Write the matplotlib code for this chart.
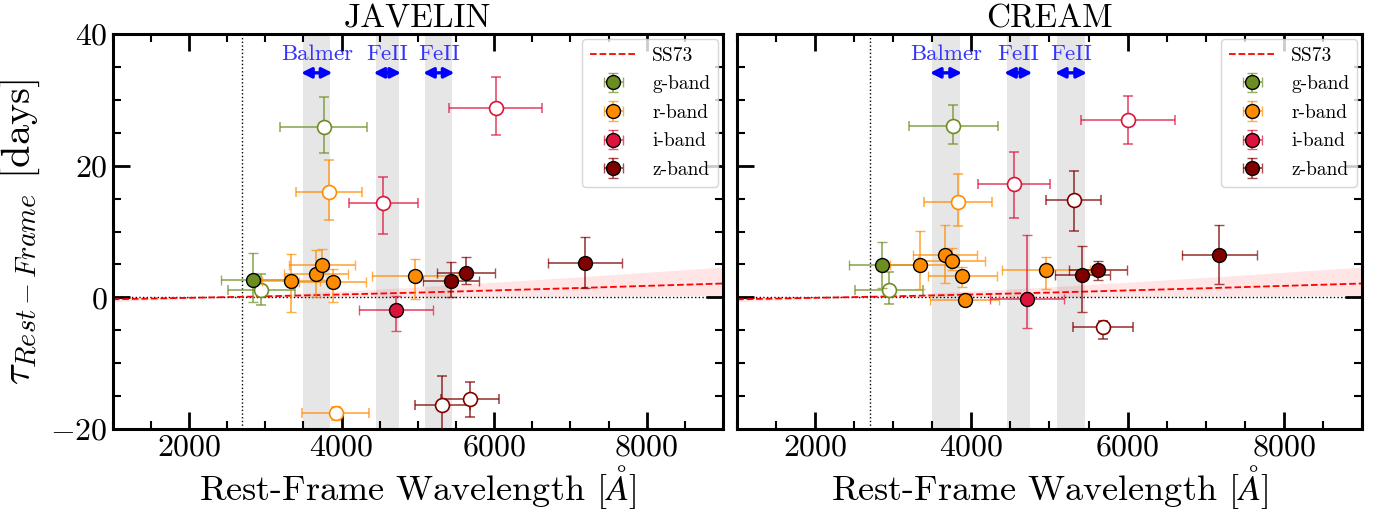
import numpy as np
import matplotlib
matplotlib.use("Agg")
import matplotlib.pyplot as plt
from matplotlib.colors import to_rgba
from matplotlib.ticker import MultipleLocator

plt.rcParams['font.family'] = 'serif'
plt.rcParams['font.serif'] = ['cmr10']
plt.rcParams['mathtext.fontset'] = 'cm'
plt.rcParams['axes.formatter.use_mathtext'] = True

# ---------------- data ----------------
bands = ['g-band', 'r-band', 'i-band', 'z-band']
band_colors = ['#6B8E23', '#FF8C00', '#DC143C', '#800000']

# JAVELIN: filled points
jav_fill_x = [[2839], [3337, 3669, 3747, 3883, 4962], [4713], [5430, 5630, 7190]]
jav_fill_y = [[2.69], [2.43, 3.6, 4.97, 2.33, 3.19], [-1.98], [2.43, 3.75, 5.2]]
jav_fill_xerr = [[423], [380, 420, 430, 437, 568], [481], [367, 384, 489]]
jav_fill_ylo = [[3.4], [4.7, 3.55, 2.3, 3.0, 3.4], [3.2], [2.4, 1.8, 3.8]]
jav_fill_yhi = [[4.0], [4.2, 3.65, 2.3, 1.9, 2.6], [2.2], [3.0, 2.4, 3.95]]
# JAVELIN: open points
jav_open_x = [[2948, 3765], [3835, 3923], [4547, 6020], [5320, 5687]]
jav_open_y = [[1.06, 25.8], [16.06, -17.5], [14.3, 28.7], [-16.3, -15.4]]
jav_open_xerr = [[440, 569], [437, 441], [450, 608], [358, 380]]
jav_open_ylo = [[2.3, 3.9], [4.37, 1.1], [4.66, 4.05], [4.5, 2.8]]
jav_open_yhi = [[2.5, 4.67], [4.76, 0.8], [3.95, 4.8], [4.4, 2.5]]

# CREAM: filled points
cre_fill_x = [[2850], [3344, 3664, 3749, 3886, 3916, 4960], [4708], [5421, 5620, 7176]]
cre_fill_y = [[4.9], [4.9, 6.5, 5.5, 3.19, -0.46, 4.1], [-0.2], [3.34, 4.2, 6.5]]
cre_fill_xerr = [[418], [384, 409, 426, 439, 443, 563], [473], [354, 371, 482]]
cre_fill_ylo = [[3.5], [3.6, 4.3, 1.3, 1.6, 0.9, 2.9], [4.4], [5.6, 1.5, 4.4]]
cre_fill_yhi = [[3.55], [5.2, 4.45, 2.0, 1.4, 1.1, 2.1], [9.7], [4.4, 1.3, 4.55]]
# CREAM: open points
cre_open_x = [[2948, 3771], [3830], [4546, 6009], [5309, 5684]]
cre_open_y = [[1.17, 26.1], [14.5], [17.2, 26.95], [14.74, -4.46]]
cre_open_xerr = [[435, 567], [435], [456, 601], [349, 384]]
cre_open_ylo = [[2.2, 2.74], [3.65], [5.1, 3.7], [4.66, 1.9]]
cre_open_yhi = [[2.7, 3.14], [4.2], [4.9, 3.7], [4.45, 0.9]]

# SS73 model curve and its band
ss73_wave = [1000, 3000, 5000, 7000, 9000]
ss73_tau = [-0.30, 0.15, 0.72, 1.38, 2.10]
ss73_lo = [-0.04, 0.02, 0.10, 0.20, 0.30]
ss73_hi = [-0.66, 0.33, 1.58, 3.02, 4.60]

# emission-line regions
region_labels = ['Balmer', 'FeII', 'FeII']
region_lo = [3500, 4450, 5100]
region_hi = [3850, 4750, 5450]
mgii_line = 2700

titles = ['JAVELIN', 'CREAM']

# ---------------- figure ----------------
fig = plt.figure(figsize=(13.84, 5.12), dpi=100)
ax1 = fig.add_axes([0.0814, 0.1621, 0.4410, 0.7715])
ax2 = fig.add_axes([0.5325, 0.1621, 0.4516, 0.7715])

panels = [
    (ax1, jav_fill_x, jav_fill_y, jav_fill_xerr, jav_fill_ylo, jav_fill_yhi,
     jav_open_x, jav_open_y, jav_open_xerr, jav_open_ylo, jav_open_yhi),
    (ax2, cre_fill_x, cre_fill_y, cre_fill_xerr, cre_fill_ylo, cre_fill_yhi,
     cre_open_x, cre_open_y, cre_open_xerr, cre_open_ylo, cre_open_yhi),
]

for k, (ax, fx, fy, fxe, fyl, fyh, ox, oy, oxe, oyl, oyh) in enumerate(panels):
    ax.set_xlim(1000, 9000)
    ax.set_ylim(-20, 40)
    for lo, hi in zip(region_lo, region_hi):
        ax.axvspan(lo, hi, color='0.9', lw=0, zorder=0)
    for lab, lo, hi in zip(region_labels, region_lo, region_hi):
        ax.annotate('', xy=(lo - 30, 34.1), xytext=(hi + 30, 34.1),
                    arrowprops=dict(arrowstyle='<|-|>', color='blue', lw=2.4,
                                    mutation_scale=15, shrinkA=0, shrinkB=0))
        ax.text((lo + hi) / 2, 37.0, lab, color=(0.2, 0.2, 1.0), ha='center',
                va='center', fontsize=16.5)
    ax.axvline(mgii_line, color='k', ls=':', lw=1.0, zorder=1)
    ax.axhline(0, color='k', ls=':', lw=1.0, zorder=1)
    ax.fill_between(ss73_wave, ss73_lo, ss73_hi, color='red', alpha=0.1, lw=0, zorder=1)
    ss_line, = ax.plot(ss73_wave, ss73_tau, color='red', ls='--', lw=1.3, zorder=2,
                       label='SS73')

    handles = [ss_line]
    for b in range(4):
        c = band_colors[b]
        ec = to_rgba(c, 0.7)
        h = ax.errorbar(fx[b], fy[b], xerr=fxe[b], yerr=[fyl[b], fyh[b]], fmt='o',
                        ms=10, mfc=c, mec='k', mew=1.0, ecolor=ec, elinewidth=1.3,
                        capsize=3.5, capthick=1.3, zorder=4, label=bands[b])
        ax.errorbar(ox[b], oy[b], xerr=oxe[b], yerr=[oyl[b], oyh[b]], fmt='o',
                    ms=10, mfc='white', mec=c, mew=1.2, ecolor=ec, elinewidth=1.3,
                    capsize=3.5, capthick=1.3, zorder=3)
        handles.append(h)

    ax.set_title(titles[k], fontsize=24, pad=4)
    ax.xaxis.set_major_locator(MultipleLocator(2000))
    ax.xaxis.set_minor_locator(MultipleLocator(500))
    ax.yaxis.set_major_locator(MultipleLocator(20))
    ax.yaxis.set_minor_locator(MultipleLocator(5))
    ax.tick_params(which='both', direction='in', top=True, right=True, labelsize=23)
    ax.tick_params(which='major', length=12, width=2)
    ax.tick_params(which='minor', length=6, width=1.5)
    for sp in ax.spines.values():
        sp.set_linewidth(2.2)
    ax.set_xlabel(r'Rest-Frame Wavelength [$\mathit{\AA}$]', fontsize=26, labelpad=1)
    leg = ax.legend(handles=handles, loc='upper right', fontsize=14, frameon=True,
                    fancybox=True, framealpha=0.8, edgecolor='0.8',
                    handlelength=2.4, borderpad=0.4, labelspacing=0.55,
                    borderaxespad=0.25)

ax1.set_ylabel(r'$\tau_{Rest-Frame}$ [days]', fontsize=29, labelpad=6)
ax2.tick_params(labelleft=False)

fig.savefig('out.png', dpi=100)
